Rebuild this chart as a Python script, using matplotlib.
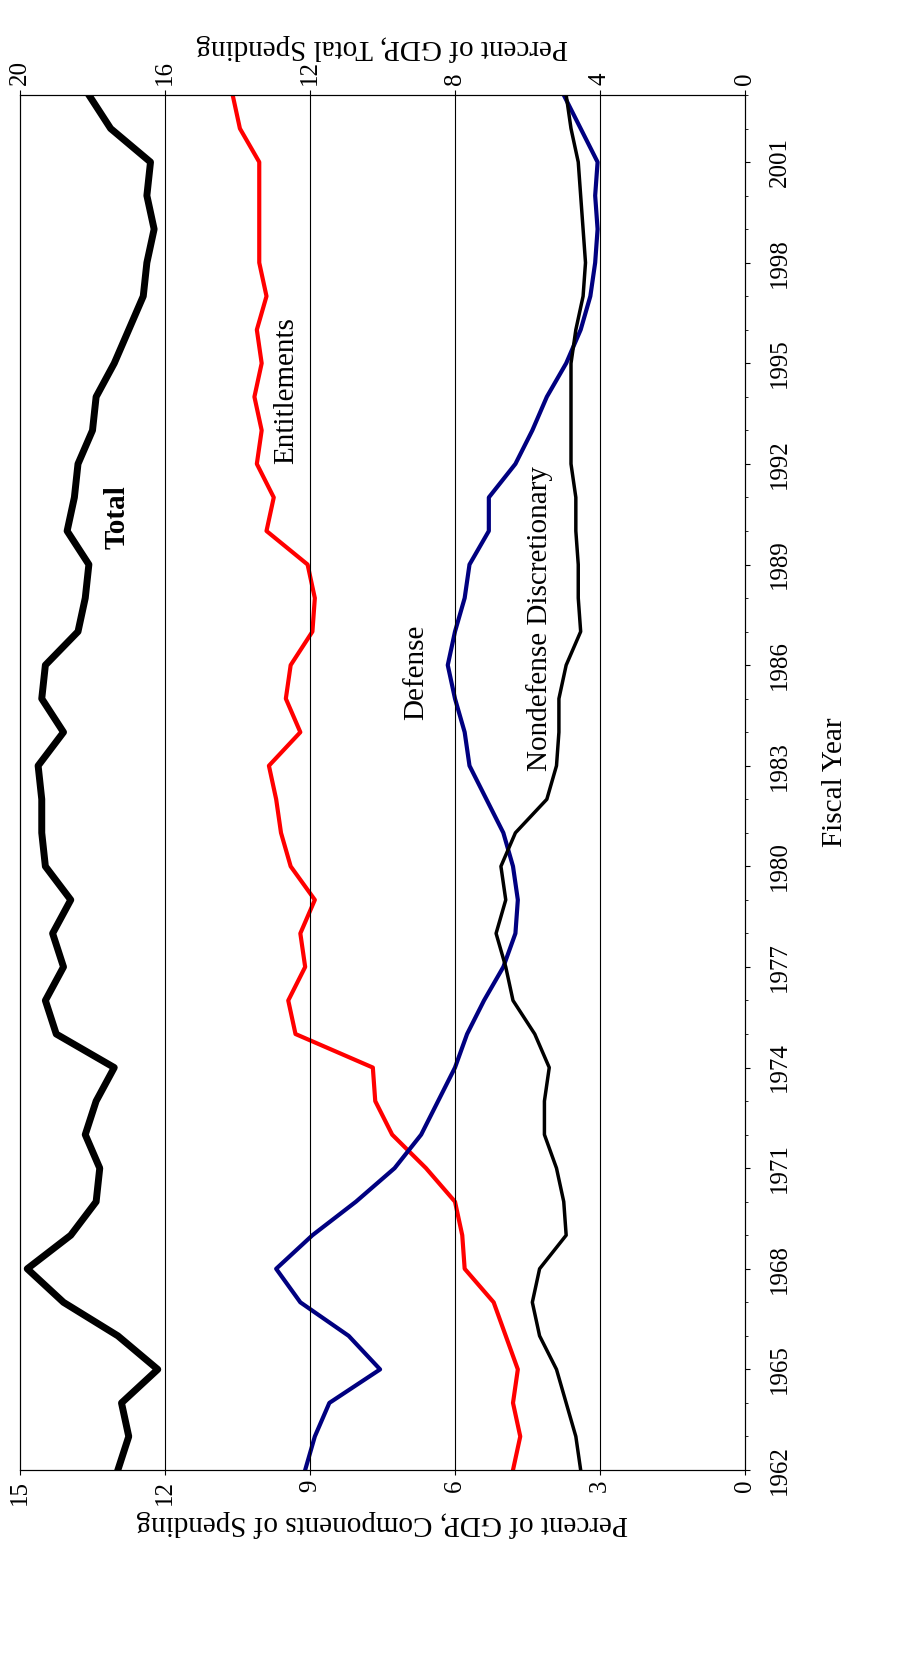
import matplotlib
matplotlib.use("Agg")
import matplotlib.pyplot as plt
from matplotlib import font_manager
import numpy as np

# pick up Liberation Serif by file if the name lookup fails
serif = 'DejaVu Serif'
for f in font_manager.findSystemFonts():
    if 'LiberationSerif-Regular' in f:
        font_manager.fontManager.addfont(f)
        serif = font_manager.FontProperties(fname=f).get_name()
for f in font_manager.findSystemFonts():
    if 'LiberationSerif-Bold.' in f:
        font_manager.fontManager.addfont(f)
plt.rcParams['font.family'] = [serif, 'DejaVu Serif']

years = np.arange(1962, 2004)
total = [17.3, 17.0, 17.2, 16.2, 17.3, 18.8, 19.8, 18.6, 17.9, 17.8, 18.2, 17.9, 17.4,
         19.0, 19.3, 18.8, 19.1, 18.6, 19.3, 19.4, 19.4, 19.5, 18.8, 19.4, 19.3, 18.4,
         18.2, 18.1, 18.7, 18.5, 18.4, 18.0, 17.9, 17.4, 17.0, 16.6, 16.5, 16.3, 16.5,
         16.4, 17.5, 18.1]
entitlements = [4.8, 4.65, 4.8, 4.7, 4.95, 5.2, 5.8, 5.85, 6.0, 6.6, 7.3, 7.65, 7.7,
                9.3, 9.45, 9.1, 9.2, 8.9, 9.4, 9.6, 9.7, 9.85, 9.2, 9.5, 9.4, 8.95,
                8.9, 9.05, 9.9, 9.75, 10.1, 10.0, 10.15, 10.0, 10.1, 9.9, 10.05, 10.05,
                10.05, 10.05, 10.45, 10.6]
defense = [9.1, 8.9, 8.6, 7.55, 8.2, 9.2, 9.7, 8.95, 8.05, 7.25, 6.7, 6.35, 6.0,
           5.75, 5.4, 5.0, 4.75, 4.7, 4.8, 5.0, 5.35, 5.7, 5.8, 6.0, 6.15, 6.0,
           5.8, 5.7, 5.3, 5.3, 4.75, 4.4, 4.1, 3.7, 3.4, 3.2, 3.1, 3.05, 3.1,
           3.05, 3.4, 3.75]
nondefense = [3.4, 3.5, 3.7, 3.9, 4.25, 4.4, 4.25, 3.7, 3.75, 3.9, 4.15, 4.15, 4.05,
              4.35, 4.8, 4.95, 5.15, 4.95, 5.05, 4.75, 4.1, 3.9, 3.85, 3.85, 3.7, 3.4,
              3.45, 3.45, 3.5, 3.5, 3.6, 3.6, 3.6, 3.6, 3.5, 3.35, 3.3, 3.35, 3.4,
              3.45, 3.6, 3.7]
year_labels = np.arange(1962, 2002, 3)

fig = plt.figure(figsize=(9, 16.69), dpi=100)
ax = fig.add_axes([20/900, 199/1669, 725/900, 1375/1669])

# chart is drawn rotated: value on x (inverted), year on y
ax.plot(entitlements, years, color='#ff0000', lw=3)
ax.plot(defense, years, color='#000080', lw=3)
ax.plot(nondefense, years, color='black', lw=2.5)
ax.set_xlim(15, 0)
ax.set_ylim(1962, 2003)
ax.set_xticks([15, 12, 9, 6, 3, 0])
ax.tick_params(axis='x', labelrotation=90, labelsize=18)
for v in [3, 6, 9, 12]:
    ax.axvline(v, color='black', lw=0.8)

ax.yaxis.tick_right()
ax.yaxis.set_label_position('right')
ax.set_yticks(year_labels)
ax.set_yticks(years, minor=True)
ax.tick_params(axis='y', labelrotation=90, labelsize=18, which='major', pad=14)
for t in ax.get_yticklabels():
    t.set_va('center')
ax.set_ylabel('Fiscal Year', rotation=90, fontsize=21, labelpad=22)
ax.set_xlabel('Percent of GDP, Components of Spending', rotation=180, fontsize=21)

ax2 = ax.twiny()
ax2.plot(total, years, color='black', lw=5)
ax2.set_xlim(20, 0)
ax2.set_xticks([20, 16, 12, 8, 4, 0])
ax2.tick_params(axis='x', labelrotation=90, labelsize=18)
ax2.set_xlabel('Percent of GDP, Total Spending', rotation=180, fontsize=21)

ax.text(13.0, 1990.4, 'Total', rotation=90, fontsize=21, fontweight='bold', ha='center', va='center')
ax.text(9.5, 1994.2, 'Entitlements', rotation=90, fontsize=21, ha='center', va='center')
ax.text(6.8, 1985.8, 'Defense', rotation=90, fontsize=21, ha='center', va='center')
ax.text(4.25, 1987.4, 'Nondefense Discretionary', rotation=90, fontsize=21, ha='center', va='center')

fig.savefig('out.png', dpi=100)
